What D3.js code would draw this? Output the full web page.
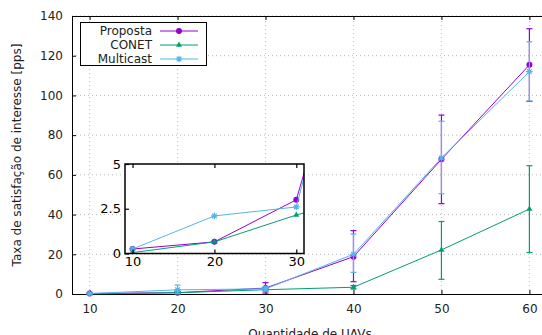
<!DOCTYPE html>
<html>
<head>
<meta charset="utf-8">
<script src="https://cdn.jsdelivr.net/npm/d3@7"></script>
<style>
  body { margin: 0; background: #fff; }
  svg { display: block; font-family: "DejaVu Sans", sans-serif; }
</style>
</head>
<body>
<svg id="chart" width="542" height="335"></svg>
<script>
const uavs = [10, 20, 30, 40, 50, 60];
const seriesNames = ["Proposta", "CONET", "Multicast"];
const propostaMean = [0.25, 0.65, 3.0, 18.8, 67.8, 115.4];
const propostaLow = [0, 0, 0.5, 6.2, 45.5, 97];
const propostaHigh = [0.6, 1.4, 5.7, 31.9, 90.1, 133.6];
const conetMean = [0.05, 0.65, 2.15, 3.4, 22.2, 42.8];
const conetLow = [0, 0.3, 1.6, 2.5, 7.4, 20.9];
const conetHigh = [0.1, 1.0, 2.7, 4.3, 36.5, 64.6];
const multicastMean = [0.25, 2.1, 2.6, 20, 68.5, 112];
const multicastLow = [0, 0.3, 1.5, 10.9, 50.5, 97.2];
const multicastHigh = [0.5, 4.5, 3.7, 30.2, 87, 127];
const yTicks = [0, 20, 40, 60, 80, 100, 120, 140];
const insetYTicks = [0, 2.5, 5];
const insetXTicks = [10, 20, 30];

const colors = ["#9400d3", "#009e73", "#56b4e9"];
const shapes = ["circle", "triangle", "star"];
const series = seriesNames.map((name, i) => ({
  name,
  color: colors[i],
  shape: shapes[i],
  values: uavs.map((u, j) => ({
    x: u,
    y: [propostaMean, conetMean, multicastMean][i][j],
    lo: [propostaLow, conetLow, multicastLow][i][j],
    hi: [propostaHigh, conetHigh, multicastHigh][i][j]
  }))
}));

const svg = d3.select("#chart");
const margin = { top: 16, left: 72, bottom: 294, right: 547 };

const x = d3.scaleLinear().domain([8, 62]).range([margin.left, margin.right]);
const y = d3.scaleLinear().domain([0, 140]).range([margin.bottom, margin.top]);

function marker(g, shape, color) {
  if (shape === "circle") {
    g.append("circle").attr("r", 3).attr("fill", color);
  } else if (shape === "triangle") {
    g.append("path").attr("d", d3.symbol(d3.symbolTriangle, 16)()).attr("fill", color);
  } else {
    const s = 3.3;
    g.append("path")
      .attr("d", `M${-s},0H${s}M0,${-s}V${s}M${-s*0.7},${-s*0.7}L${s*0.7},${s*0.7}M${-s*0.7},${s*0.7}L${s*0.7},${-s*0.7}`)
      .attr("stroke", color).attr("stroke-width", 1.2).attr("fill", "none");
  }
}

// grid
const grid = svg.append("g").attr("stroke", "#bbb").attr("stroke-width", 1).attr("stroke-dasharray", "1,3");
grid.selectAll(".gx").data(uavs).join("line")
  .attr("x1", d => x(d)).attr("x2", d => x(d)).attr("y1", y(0)).attr("y2", y(140));
grid.selectAll(".gy").data(yTicks.slice(1)).join("line")
  .attr("x1", x(8)).attr("x2", x(62)).attr("y1", d => y(d)).attr("y2", d => y(d));

// axes
const axB = svg.append("g").attr("transform", `translate(0,${y(0)})`)
  .call(d3.axisBottom(x).tickValues(uavs).tickSizeInner(-4).tickSizeOuter(0).tickPadding(10));
const axT = svg.append("g").attr("transform", `translate(0,${y(140)})`)
  .call(d3.axisTop(x).tickValues(uavs).tickSizeInner(-4).tickSizeOuter(0).tickFormat(""));
const axL = svg.append("g").attr("transform", `translate(${x(8)},0)`)
  .call(d3.axisLeft(y).tickValues(yTicks).tickSizeInner(-4).tickSizeOuter(0).tickPadding(9));
[axB, axT, axL].forEach(a => {
  a.select(".domain").attr("stroke", "#000");
  a.selectAll(".tick line").attr("stroke", "#000");
  a.selectAll("text").attr("font-size", 12).attr("fill", "#222").attr("font-family", "DejaVu Sans");
});

// series in main plot
const line = d3.line().x(d => x(d.x)).y(d => y(d.y));
series.forEach(s => {
  const g = svg.append("g");
  g.append("path").datum(s.values).attr("d", line)
    .attr("fill", "none").attr("stroke", s.color).attr("stroke-width", 1);
  const eb = g.selectAll(".eb").data(s.values).join("g");
  eb.append("line").attr("x1", d => x(d.x)).attr("x2", d => x(d.x))
    .attr("y1", d => y(d.lo)).attr("y2", d => y(d.hi)).attr("stroke", s.color).attr("stroke-width", 1.2);
  ["lo", "hi"].forEach(k => {
    eb.append("line").attr("x1", d => x(d.x) - 3).attr("x2", d => x(d.x) + 3)
      .attr("y1", d => y(d[k])).attr("y2", d => y(d[k])).attr("stroke", s.color).attr("stroke-width", 1.2);
  });
  s.values.forEach(d => {
    marker(g.append("g").attr("transform", `translate(${x(d.x)},${y(d.y)})`), s.shape, s.color);
  });
});

// legend
const leg = svg.append("g");
leg.append("rect").attr("x", 80.5).attr("y", 22.5).attr("width", 126).attr("height", 43)
  .attr("fill", "#fff").attr("stroke", "#000").attr("stroke-width", 1);
series.forEach((s, i) => {
  const ly = 31 + i * 14;
  leg.append("text").attr("x", 152).attr("y", ly + 4).attr("text-anchor", "end")
    .attr("font-size", 12).attr("fill", "#222").text(s.name);
  leg.append("line").attr("x1", 160).attr("x2", 198).attr("y1", ly).attr("y2", ly)
    .attr("stroke", s.color).attr("stroke-width", 1);
  marker(leg.append("g").attr("transform", `translate(179,${ly})`), s.shape, s.color);
});

// axis titles
svg.append("text").attr("x", 310).attr("y", 338).attr("text-anchor", "middle")
  .attr("font-size", 12).attr("fill", "#222").text("Quantidade de UAVs");
svg.append("text").attr("transform", "translate(21,155) rotate(-90)").attr("text-anchor", "middle")
  .attr("font-size", 12).attr("fill", "#222").text("Taxa de satisfação de interesse [pps]");

// inset
const ix = d3.scaleLinear().domain([9.08, 30.94]).range([125, 304]);
const iy = d3.scaleLinear().domain([0, 5]).range([253.5, 164]);
const inset = svg.append("g");
inset.append("rect").attr("x", 125).attr("y", 164).attr("width", 179).attr("height", 89.5).attr("fill", "#fff");
svg.append("clipPath").attr("id", "insetClip").append("rect")
  .attr("x", 125).attr("y", 164).attr("width", 179).attr("height", 89.5);
const iline = d3.line().x(d => ix(d.x)).y(d => iy(d.y));
const ig = inset.append("g").attr("clip-path", "url(#insetClip)");
series.forEach(s => {
  ig.append("path").datum(s.values).attr("d", iline)
    .attr("fill", "none").attr("stroke", s.color).attr("stroke-width", 1);
  s.values.forEach(d => {
    marker(ig.append("g").attr("transform", `translate(${ix(d.x)},${iy(d.y)})`), s.shape, s.color);
  });
});
inset.append("rect").attr("x", 125).attr("y", 164).attr("width", 179).attr("height", 89.5)
  .attr("fill", "none").attr("stroke", "#000").attr("stroke-width", 1.5);
const iaB = inset.append("g").attr("transform", "translate(0,253.5)")
  .call(d3.axisBottom(ix).tickValues(insetXTicks).tickSizeInner(-4).tickSizeOuter(0).tickPadding(3));
const iaT = inset.append("g").attr("transform", "translate(0,164)")
  .call(d3.axisTop(ix).tickValues(insetXTicks).tickSizeInner(-4).tickSizeOuter(0).tickFormat(""));
const iaL = inset.append("g").attr("transform", "translate(125,0)")
  .call(d3.axisLeft(iy).tickValues(insetYTicks).tickSizeInner(-4).tickSizeOuter(0).tickPadding(4).tickFormat(d3.format("")));
[iaB, iaT, iaL].forEach(a => {
  a.select(".domain").remove();
  a.selectAll(".tick line").attr("stroke", "#000").attr("stroke-width", 1.2);
  a.selectAll("text").attr("font-size", 13).attr("fill", "#000").attr("font-family", "DejaVu Sans");
});
</script>
</body>
</html>
